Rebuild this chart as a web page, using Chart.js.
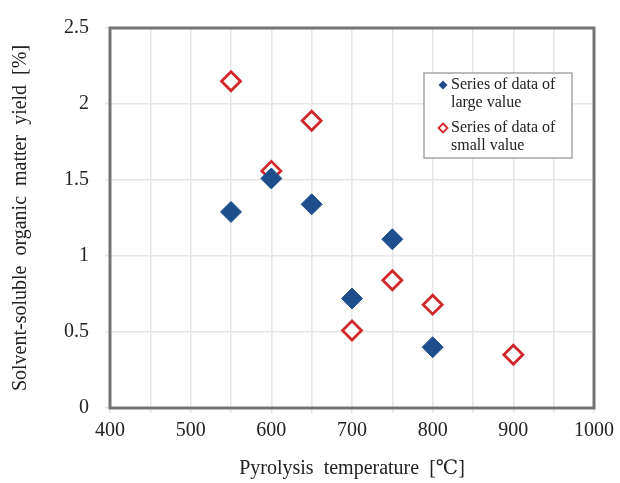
<!DOCTYPE html>
<html lang="en">
<head>
  <meta charset="UTF-8" />
  <title>Solvent-soluble organic matter yield</title>
  <script src="https://cdn.jsdelivr.net/npm/chart.js"></script>
  <style>
    body { margin: 0; background: #fff; }
    #chart { display: block; }
  </style>
</head>
<body>
  <canvas id="chart" width="620" height="483"></canvas>
  <script>
    // data
    const largeTemps = [550, 600, 650, 700, 750, 800];
    const largeYield = [1.29, 1.51, 1.34, 0.72, 1.11, 0.40];
    const smallTemps = [550, 600, 650, 700, 750, 800, 900];
    const smallYield = [2.15, 1.56, 1.89, 0.51, 0.84, 0.68, 0.35];
    const seriesNames = [
      ['Series of data of', 'large value'],
      ['Series of data of', 'small value']
    ];

    const blue = '#1f4e8c';
    const red = '#d0262c';
    const serif = "'Liberation Serif', 'DejaVu Serif', serif";

    const toPoints = (xs, ys) => xs.map((x, i) => ({ x: x, y: ys[i] }));

    // frame around the plot area
    const framePlugin = {
      id: 'frame',
      afterDatasetsDraw(chart) {
        const { ctx, chartArea: a } = chart;
        ctx.save();
        ctx.strokeStyle = '#747474';
        ctx.lineWidth = 3;
        ctx.strokeRect(a.left, a.top, a.right - a.left, a.bottom - a.top);
        ctx.restore();
      }
    };

    // boxed legend with two-line labels
    const boxLegend = {
      id: 'boxLegend',
      afterDraw(chart) {
        const { ctx } = chart;
        const x = 424, y = 73, w = 148, h = 85;
        ctx.save();
        ctx.fillStyle = '#fff';
        ctx.fillRect(x, y, w, h);
        ctx.strokeStyle = '#a6a6a6';
        ctx.lineWidth = 1.5;
        ctx.strokeRect(x, y, w, h);
        ctx.font = '16px ' + serif;
        ctx.textBaseline = 'middle';
        ctx.textAlign = 'left';
        chart.data.datasets.forEach((ds, i) => {
          const ty = y + 12 + i * 43;
          const mx = x + 19;
          ctx.beginPath();
          ctx.moveTo(mx, ty - 4.5);
          ctx.lineTo(mx + 4.5, ty);
          ctx.lineTo(mx, ty + 4.5);
          ctx.lineTo(mx - 4.5, ty);
          ctx.closePath();
          if (i === 0) {
            ctx.fillStyle = blue;
            ctx.fill();
          } else {
            ctx.strokeStyle = red;
            ctx.lineWidth = 1.8;
            ctx.stroke();
          }
          ctx.fillStyle = '#222';
          seriesNames[i].forEach((line, j) => {
            ctx.fillText(line, x + 27, ty + j * 18);
          });
        });
        ctx.restore();
      }
    };

    new Chart(document.getElementById('chart'), {
      type: 'scatter',
      data: {
        datasets: [{
          label: seriesNames[0].join(' '),
          data: toPoints(largeTemps, largeYield),
          pointStyle: 'rectRot',
          pointRadius: 10.5,
          backgroundColor: blue,
          borderColor: blue,
          borderWidth: 1
        }, {
          label: seriesNames[1].join(' '),
          data: toPoints(smallTemps, smallYield),
          pointStyle: 'rectRot',
          pointRadius: 9.5,
          backgroundColor: '#fff',
          borderColor: red,
          borderWidth: 2.8
        }]
      },
      options: {
        responsive: false,
        animation: false,
        layout: { padding: { left: 0, top: 25, right: 23, bottom: 0 } },
        plugins: {
          legend: { display: false },
          tooltip: { enabled: false }
        },
        scales: {
          x: {
            type: 'linear',
            min: 400,
            max: 1000,
            afterFit(scale) { scale.height = 75; },
            ticks: {
              stepSize: 50,
              padding: 6,
              maxRotation: 0,
              minRotation: 0,
              autoSkip: false,
              color: '#222',
              font: { family: serif, size: 20 },
              callback: v => (v % 100 === 0 ? v : '')
            },
            grid: { color: '#e6e6e6', lineWidth: 1.5, tickLength: 5 },
            border: { display: false },
            title: {
              display: true,
              text: 'Pyrolysis  temperature  [℃]',
              color: '#222',
              font: { family: serif, size: 20 },
              padding: { top: 0, bottom: 2 }
            }
          },
          y: {
            min: 0,
            max: 2.5,
            afterFit(scale) { scale.width = 110; },
            ticks: {
              stepSize: 0.5,
              padding: 16,
              color: '#222',
              font: { family: serif, size: 20 },
              callback: v => String(Math.round(v * 10) / 10)
            },
            grid: { color: '#e6e6e6', lineWidth: 1.5, tickLength: 5 },
            border: { display: false },
            title: {
              display: true,
              text: 'Solvent-soluble  organic  matter  yield  [%]',
              color: '#222',
              font: { family: serif, size: 20 },
              padding: { top: 9, bottom: 0 }
            }
          }
        }
      },
      plugins: [framePlugin, boxLegend]
    });
  </script>
</body>
</html>
